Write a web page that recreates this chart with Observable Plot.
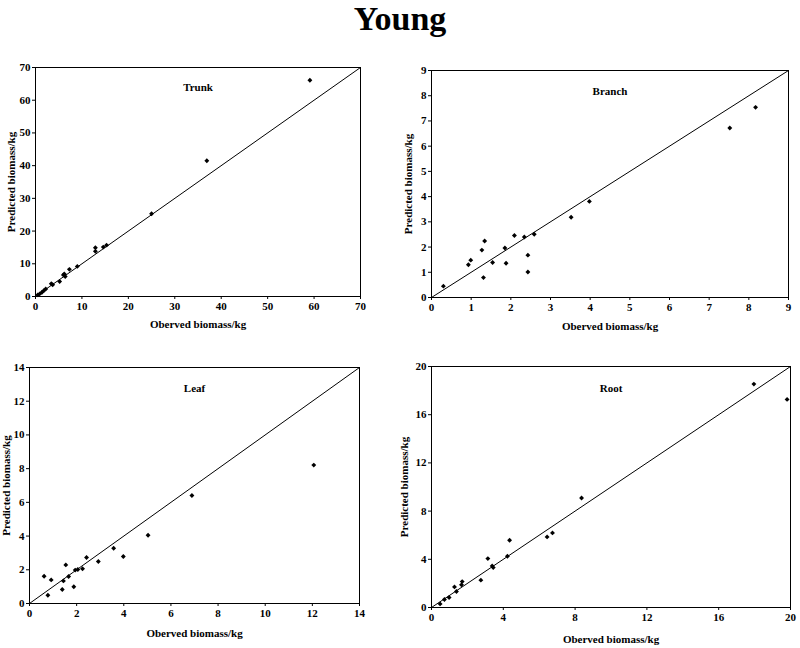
<!DOCTYPE html>
<html>
<head>
<meta charset="utf-8">
<script src="https://cdn.jsdelivr.net/npm/d3@7"></script>
<script src="https://cdn.jsdelivr.net/npm/@observablehq/plot@0.6"></script>
<style>
  html, body { margin: 0; padding: 0; background: #fff; }
  #root { position: relative; width: 800px; height: 648px; overflow: hidden; font-family: "Liberation Serif", "Times New Roman", serif; }
  #title { position: absolute; left: 0; top: 0; width: 800px; text-align: center; font-size: 34px; font-weight: bold; color: #000; }
  .panel { position: absolute; }
</style>
</head>
<body>
<div id="root">
  <div id="title">Young</div>
</div>
<script>
// ---- Data ----
const panelNames = ["Trunk", "Branch", "Leaf", "Root"];
const axisMax = [70, 9, 14, 20];
const tickStep = [10, 1, 2, 4];
const xLabel = "Oberved biomass/kg";
const yLabel = "Predicted biomass/kg";

const trunkObserved  = [0.5, 0.9, 1.4, 1.8, 2.2, 3.4, 3.7, 5.2, 6.0, 6.2, 6.4, 7.3, 9.0, 12.9, 12.9, 14.6, 15.3, 25.0, 36.9, 59.1];
const trunkPredicted = [0.5, 0.8, 1.3, 1.8, 2.3, 3.9, 3.6, 4.6, 6.6, 6.9, 6.1, 8.3, 9.2, 14.9, 13.8, 15.1, 15.7, 25.3, 41.5, 66.1];

const branchObserved  = [0.30, 0.93, 0.99, 1.27, 1.34, 1.31, 1.54, 1.85, 1.88, 2.09, 2.34, 2.43, 2.43, 2.59, 3.52, 3.98, 7.52, 8.17];
const branchPredicted = [0.45, 1.30, 1.48, 1.88, 2.24, 0.79, 1.39, 1.96, 1.36, 2.46, 2.40, 1.68, 1.01, 2.51, 3.18, 3.81, 6.72, 7.54];

const leafObserved  = [0.62, 0.78, 0.92, 1.39, 1.44, 1.54, 1.66, 1.88, 1.94, 2.05, 2.25, 2.42, 2.92, 3.57, 3.98, 5.03, 6.89, 12.06];
const leafPredicted = [1.62, 0.49, 1.40, 0.83, 1.34, 2.29, 1.60, 0.99, 1.98, 2.02, 2.06, 2.73, 2.49, 3.28, 2.79, 4.05, 6.41, 8.21];

const rootObserved  = [0.48, 0.72, 0.98, 1.28, 1.39, 1.67, 1.71, 2.75, 3.14, 3.38, 3.44, 4.23, 4.35, 6.44, 6.74, 8.36, 17.96, 19.81];
const rootPredicted = [0.30, 0.66, 0.83, 1.71, 1.33, 1.88, 2.15, 2.27, 4.06, 3.45, 3.31, 4.25, 5.58, 5.86, 6.19, 9.09, 18.54, 17.27];

const observedSets  = [trunkObserved, branchObserved, leafObserved, rootObserved];
const predictedSets = [trunkPredicted, branchPredicted, leafPredicted, rootPredicted];

// ---- Layout (positions / sizes only) ----
const layout = [
  {left: 0,   top: 50,  width: 375, height: 285, mt: 17, mr: 15, mb: 39, ml: 35, yOff: 28, xOff: 31, nameDy: 16},
  {left: 395, top: 50,  width: 405, height: 290, mt: 20, mr: 12, mb: 43, ml: 36, yOff: 27, xOff: 32, nameDy: 17},
  {left: 0,   top: 350, width: 375, height: 298, mt: 17, mr: 16, mb: 45, ml: 29, yOff: 27, xOff: 33, nameDy: 17},
  {left: 395, top: 350, width: 405, height: 298, mt: 16, mr: 10, mb: 41, ml: 36, yOff: 31, xOff: 35, nameDy: 18}
];

const root = document.getElementById("root");

panelNames.forEach((name, i) => {
  const L = layout[i];
  const max = axisMax[i];
  const ticks = d3.range(0, max + tickStep[i] / 2, tickStep[i]);
  const pts = observedSets[i].map((o, j) => ({observed: o, predicted: predictedSets[i][j]}));
  const diag = [{v: 0}, {v: max}];

  const chart = Plot.plot({
    width: L.width,
    height: L.height,
    marginTop: L.mt,
    marginRight: L.mr,
    marginBottom: L.mb,
    marginLeft: L.ml,
    style: {fontFamily: "'Liberation Serif', 'Times New Roman', serif", fontSize: "11px", fontWeight: "bold", color: "#000", background: "#fff", overflow: "visible"},
    x: {domain: [0, max], ticks, tickFormat: d3.format("d"), tickSize: 3, tickPadding: 3, label: xLabel, labelAnchor: "center", labelOffset: L.xOff, labelArrow: "none"},
    y: {domain: [0, max], ticks, tickFormat: d3.format("d"), tickSize: 3, tickPadding: 2, label: yLabel, labelAnchor: "center", labelOffset: L.yOff, labelArrow: "none"},
    marks: [
      Plot.frame({stroke: "#000", strokeWidth: 1}),
      Plot.line(diag, {x: "v", y: "v", stroke: "#000", strokeWidth: 1}),
      Plot.dot(pts, {x: "observed", y: "predicted", symbol: "diamond2", r: 2.2, fill: "#000", stroke: "none"}),
      Plot.text([name], {text: d => d, frameAnchor: "top", dy: L.nameDy, fontSize: 11, fontWeight: "bold", fill: "#000"})
    ]
  });
  const wrap = document.createElement("div");
  wrap.className = "panel";
  wrap.style.left = L.left + "px";
  wrap.style.top = L.top + "px";
  wrap.appendChild(chart);
  root.appendChild(wrap);
});
</script>
</body>
</html>
